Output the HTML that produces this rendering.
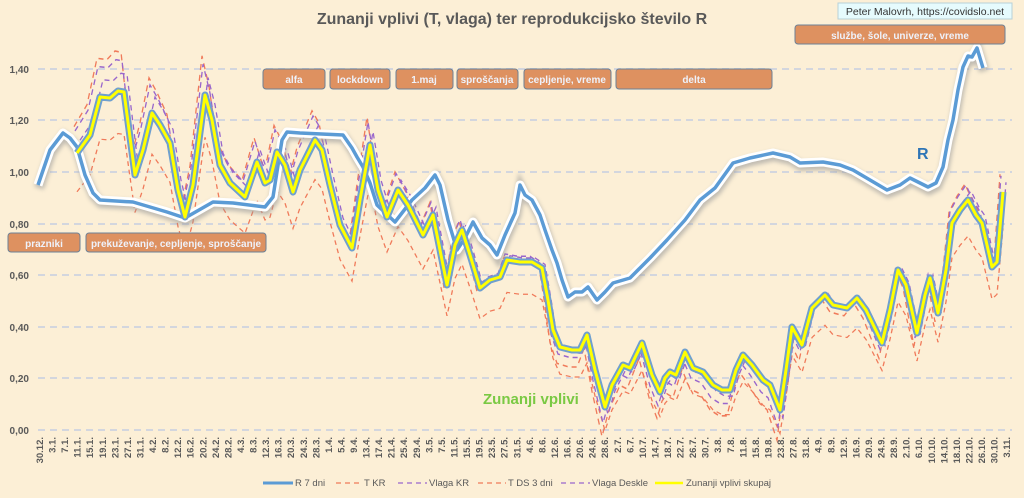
<!DOCTYPE html>
<html><head><meta charset="utf-8"><style>
html,body{margin:0;padding:0;width:1024px;height:498px;overflow:hidden;background:#fcefd6}
svg{display:block;font-family:"Liberation Sans",sans-serif}
</style></head><body>
<svg width="1024" height="498" viewBox="0 0 1024 498" xmlns="http://www.w3.org/2000/svg">
<defs>
<filter id="sh" x="-5%" y="-10%" width="110%" height="130%"><feGaussianBlur stdDeviation="2"/></filter>
</defs>
<rect width="1024" height="498" fill="#fcefd6"/>
<g stroke="#d3d6de" stroke-width="2" stroke-dasharray="7,5">
<line x1="38" x2="1012" y1="69" y2="69"/><line x1="38" x2="1012" y1="120" y2="120"/><line x1="38" x2="1012" y1="172" y2="172"/><line x1="38" x2="1012" y1="224" y2="224"/><line x1="38" x2="1012" y1="275" y2="275"/><line x1="38" x2="1012" y1="327" y2="327"/><line x1="38" x2="1012" y1="378" y2="378"/><line x1="38" x2="1012" y1="430" y2="430"/>
</g>
<g font-size="10" font-weight="bold" fill="#595959" text-anchor="end">
<text x="29" y="73">1,40</text><text x="29" y="124">1,20</text><text x="29" y="176">1,00</text><text x="29" y="228">0,80</text><text x="29" y="279">0,60</text><text x="29" y="331">0,40</text><text x="29" y="382">0,20</text><text x="29" y="434">0,00</text>
</g>
<text x="512" y="24" text-anchor="middle" font-size="16" font-weight="bold" fill="#595959">Zunanji vplivi (T, vlaga) ter reprodukcijsko število R</text>
<rect x="838" y="3" width="174" height="16" fill="#e6fbfd" stroke="#b8d0d8"/>
<text x="925" y="15" text-anchor="middle" font-size="10.5" fill="#333">Peter Malovrh, https://covidslo.net</text>

<defs>
<polyline id="zy" fill="none" points="77,153 90,135 100,97 110,98 118,91 124,92 135,175 143,150 152,113 160,125 170,143 178,190 185,217 193,185 205,95 212,120 220,165 230,183 245,197 257,162 265,183 270,180 277,152 285,165 293,192 300,170 315,140 322,150 330,185 340,225 352,248 360,200 370,145 378,190 387,217 398,190 408,205 423,235 433,215 440,250 447,285 455,245 462,230 470,255 480,288 490,280 500,277 507,260 520,262 532,262 542,268 548,300 553,330 560,347 572,350 580,350 587,335 595,370 605,407 612,385 623,365 630,368 642,343 652,375 660,392 665,378 670,372 676,375 685,352 693,368 703,372 713,385 722,390 730,390 736,370 743,355 752,365 763,380 770,385 780,410 786,370 792,327 802,345 812,308 825,295 833,305 847,308 857,298 866,310 882,343 890,310 898,270 906,285 917,333 925,295 930,278 938,313 946,270 952,223 960,210 968,200 976,215 982,223 992,267 997,262 1003,192"/>
<polyline id="rr" fill="none" points="38,185 50,150 63,133 70,138 77,147 85,175 93,193 100,200 133,202 167,212 185,218 213,202 233,203 265,207 273,197 282,140 287,132 300,133 343,135 352,148 357,157 363,167 370,183 377,205 395,222 412,200 425,188 435,175 440,185 448,220 457,250 465,238 473,222 482,238 490,245 497,255 505,235 515,213 520,185 525,195 532,200 540,215 545,230 552,250 557,263 562,280 568,297 575,292 582,292 588,287 597,300 605,292 613,283 630,278 650,258 667,240 685,220 700,200 715,188 733,163 750,158 773,153 790,157 800,163 823,162 840,165 853,170 870,180 887,190 900,185 910,178 920,183 928,187 936,183 943,167 948,140 953,120 958,90 963,67 968,56 972,57 977,48 980,58 983,68"/>
</defs>

<!-- dashed series -->
<g fill="none" stroke-width="1.3" stroke-dasharray="5,4">
<use href="#zy" stroke="#f07a5a" transform="translate(0,48) scale(1,0.94)"/>
<use href="#zy" stroke="#f07a5a" transform="translate(-3,-60) scale(1,1.22)"/>
<use href="#zy" stroke="#9966cc" transform="translate(3,-25) scale(1,1.08)"/>
<use href="#zy" stroke="#9966cc" transform="translate(-2,-45) scale(1,1.15)"/>
</g>

<!-- R line with glow -->
<use href="#rr" stroke="#999" stroke-width="10" opacity="0.6" filter="url(#sh)" transform="translate(1,3)"/>
<use href="#rr" stroke="#ffffff" stroke-width="9" stroke-linejoin="round"/>
<use href="#rr" stroke="#5b9bd5" stroke-width="3.5" stroke-linejoin="round"/>

<!-- yellow -->
<use href="#zy" stroke="#6fa0cf" stroke-width="7" stroke-linejoin="round"/>
<use href="#zy" stroke="#ffff00" stroke-width="3" stroke-linejoin="round"/>

<text x="917" y="159" font-size="16" font-weight="bold" fill="#2e75b6">R</text>
<text x="483" y="404" font-size="15" font-weight="bold" fill="#7ac943">Zunanji vplivi</text>

<!-- boxes -->
<g fill="#de9160" stroke="#6d8196" stroke-width="1">
<rect x="263" y="69" width="62" height="20" rx="3"/>
<rect x="330" y="69" width="60" height="20" rx="3"/>
<rect x="396" y="69" width="57" height="20" rx="3"/>
<rect x="457" y="69" width="61" height="20" rx="3"/>
<rect x="524" y="69" width="87" height="20" rx="3"/>
<rect x="616" y="69" width="156" height="20" rx="3"/>
<rect x="795" y="25" width="210" height="19" rx="3"/>
<rect x="8" y="233" width="72" height="19" rx="3"/>
<rect x="86" y="233" width="180" height="19" rx="3"/>
</g>
<g font-size="10" font-weight="bold" fill="#eef2fb" text-anchor="middle">
<text x="294" y="83">alfa</text><text x="360" y="83">lockdown</text><text x="424" y="83">1.maj</text><text x="487" y="83">sproščanja</text><text x="567" y="83">cepljenje, vreme</text><text x="694" y="83">delta</text>
<text x="900" y="39">službe, šole, univerze, vreme</text>
<text x="44" y="247">prazniki</text><text x="176" y="247">prekuževanje, cepljenje, sproščanje</text>
</g>

<!-- x labels -->
<g font-size="9.5" font-weight="bold" fill="#595959" text-anchor="end">
<text transform="translate(43.0,437) rotate(-90)">30.12.</text>
<text transform="translate(55.6,437) rotate(-90)">3.1.</text>
<text transform="translate(68.1,437) rotate(-90)">7.1.</text>
<text transform="translate(80.7,437) rotate(-90)">11.1.</text>
<text transform="translate(93.2,437) rotate(-90)">15.1.</text>
<text transform="translate(105.8,437) rotate(-90)">19.1.</text>
<text transform="translate(118.4,437) rotate(-90)">23.1.</text>
<text transform="translate(130.9,437) rotate(-90)">27.1.</text>
<text transform="translate(143.5,437) rotate(-90)">31.1.</text>
<text transform="translate(156.0,437) rotate(-90)">4.2.</text>
<text transform="translate(168.6,437) rotate(-90)">8.2.</text>
<text transform="translate(181.2,437) rotate(-90)">12.2.</text>
<text transform="translate(193.7,437) rotate(-90)">16.2.</text>
<text transform="translate(206.3,437) rotate(-90)">20.2.</text>
<text transform="translate(218.8,437) rotate(-90)">24.2.</text>
<text transform="translate(231.4,437) rotate(-90)">28.2.</text>
<text transform="translate(244.0,437) rotate(-90)">4.3.</text>
<text transform="translate(256.5,437) rotate(-90)">8.3.</text>
<text transform="translate(269.1,437) rotate(-90)">12.3.</text>
<text transform="translate(281.6,437) rotate(-90)">16.3.</text>
<text transform="translate(294.2,437) rotate(-90)">20.3.</text>
<text transform="translate(306.8,437) rotate(-90)">24.3.</text>
<text transform="translate(319.3,437) rotate(-90)">28.3.</text>
<text transform="translate(331.9,437) rotate(-90)">1.4.</text>
<text transform="translate(344.4,437) rotate(-90)">5.4.</text>
<text transform="translate(357.0,437) rotate(-90)">9.4.</text>
<text transform="translate(369.6,437) rotate(-90)">13.4.</text>
<text transform="translate(382.1,437) rotate(-90)">17.4.</text>
<text transform="translate(394.7,437) rotate(-90)">21.4.</text>
<text transform="translate(407.2,437) rotate(-90)">25.4.</text>
<text transform="translate(419.8,437) rotate(-90)">29.4.</text>
<text transform="translate(432.4,437) rotate(-90)">3.5.</text>
<text transform="translate(444.9,437) rotate(-90)">7.5.</text>
<text transform="translate(457.5,437) rotate(-90)">11.5.</text>
<text transform="translate(470.0,437) rotate(-90)">15.5.</text>
<text transform="translate(482.6,437) rotate(-90)">19.5.</text>
<text transform="translate(495.2,437) rotate(-90)">23.5.</text>
<text transform="translate(507.7,437) rotate(-90)">27.5.</text>
<text transform="translate(520.3,437) rotate(-90)">31.5.</text>
<text transform="translate(532.8,437) rotate(-90)">4.6.</text>
<text transform="translate(545.4,437) rotate(-90)">8.6.</text>
<text transform="translate(558.0,437) rotate(-90)">12.6.</text>
<text transform="translate(570.5,437) rotate(-90)">16.6.</text>
<text transform="translate(583.1,437) rotate(-90)">20.6.</text>
<text transform="translate(595.6,437) rotate(-90)">24.6.</text>
<text transform="translate(608.2,437) rotate(-90)">28.6.</text>
<text transform="translate(620.8,437) rotate(-90)">2.7.</text>
<text transform="translate(633.3,437) rotate(-90)">6.7.</text>
<text transform="translate(645.9,437) rotate(-90)">10.7.</text>
<text transform="translate(658.4,437) rotate(-90)">14.7.</text>
<text transform="translate(671.0,437) rotate(-90)">18.7.</text>
<text transform="translate(683.6,437) rotate(-90)">22.7.</text>
<text transform="translate(696.1,437) rotate(-90)">26.7.</text>
<text transform="translate(708.7,437) rotate(-90)">30.7.</text>
<text transform="translate(721.2,437) rotate(-90)">3.8.</text>
<text transform="translate(733.8,437) rotate(-90)">7.8.</text>
<text transform="translate(746.4,437) rotate(-90)">11.8.</text>
<text transform="translate(758.9,437) rotate(-90)">15.8.</text>
<text transform="translate(771.5,437) rotate(-90)">19.8.</text>
<text transform="translate(784.0,437) rotate(-90)">23.8.</text>
<text transform="translate(796.6,437) rotate(-90)">27.8.</text>
<text transform="translate(809.2,437) rotate(-90)">31.8.</text>
<text transform="translate(821.7,437) rotate(-90)">4.9.</text>
<text transform="translate(834.3,437) rotate(-90)">8.9.</text>
<text transform="translate(846.8,437) rotate(-90)">12.9.</text>
<text transform="translate(859.4,437) rotate(-90)">16.9.</text>
<text transform="translate(872.0,437) rotate(-90)">20.9.</text>
<text transform="translate(884.5,437) rotate(-90)">24.9.</text>
<text transform="translate(897.1,437) rotate(-90)">28.9.</text>
<text transform="translate(909.6,437) rotate(-90)">2.10.</text>
<text transform="translate(922.2,437) rotate(-90)">6.10.</text>
<text transform="translate(934.8,437) rotate(-90)">10.10.</text>
<text transform="translate(947.3,437) rotate(-90)">14.10.</text>
<text transform="translate(959.9,437) rotate(-90)">18.10.</text>
<text transform="translate(972.4,437) rotate(-90)">22.10.</text>
<text transform="translate(985.0,437) rotate(-90)">26.10.</text>
<text transform="translate(997.6,437) rotate(-90)">30.10.</text>
<text transform="translate(1010.1,437) rotate(-90)">3.11.</text>
</g>

<!-- legend -->
<g font-size="9.5" fill="#595959">
<line x1="263" x2="293" y1="483" y2="483" stroke="#5b9bd5" stroke-width="3"/><text x="295" y="486">R 7 dni</text>
<line x1="336" x2="362" y1="483" y2="483" stroke="#f07a5a" stroke-width="1.3" stroke-dasharray="5,4"/><text x="364" y="486">T KR</text>
<line x1="398" x2="427" y1="483" y2="483" stroke="#9966cc" stroke-width="1.3" stroke-dasharray="5,4"/><text x="429" y="486">Vlaga KR</text>
<line x1="478" x2="506" y1="483" y2="483" stroke="#f07a5a" stroke-width="1.3" stroke-dasharray="5,4"/><text x="508" y="486">T DS 3 dni</text>
<line x1="561" x2="590" y1="483" y2="483" stroke="#9966cc" stroke-width="1.3" stroke-dasharray="5,4"/><text x="592" y="486">Vlaga Deskle</text>
<line x1="655" x2="683" y1="483" y2="483" stroke="#ffff00" stroke-width="2.5"/><text x="686" y="486">Zunanji vplivi skupaj</text>
</g>
</svg>
</body></html>
